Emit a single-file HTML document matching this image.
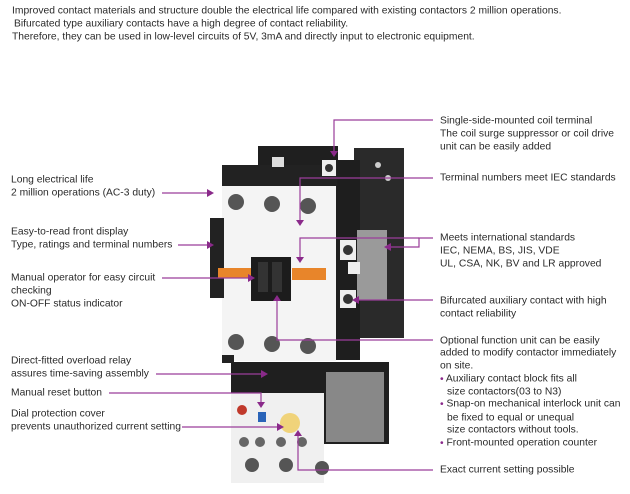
<!DOCTYPE html>
<html><head><meta charset="utf-8"><style>
html,body{margin:0;padding:0;background:#fff;}
svg{display:block;}
text{font-family:"Liberation Sans",sans-serif;font-size:10.3px;fill:#2a2a2a;dominant-baseline:central;}
.l{stroke:#9a3d9a;stroke-width:1.2;fill:none;}
.a{fill:#8a2a8a;}
</style></head><body>
<svg width="630" height="494" viewBox="0 0 630 494" xmlns="http://www.w3.org/2000/svg">
<!-- header -->
<text x="12" y="11">Improved contact materials and structure double the electrical life compared with existing contactors 2 million operations.</text>
<text x="14" y="24">Bifurcated type auxiliary contacts have a high degree of contact reliability.</text>
<text x="12" y="37">Therefore, they can be used in low-level circuits of 5V, 3mA and directly input to electronic equipment.</text>

<!-- product: mounting bracket -->
<rect x="354" y="148" width="50" height="190" fill="#2a2a2a"/>
<circle cx="378" cy="165" r="3" fill="#ccc"/><circle cx="388" cy="178" r="3" fill="#ccc"/>
<rect x="336" y="160" width="24" height="200" fill="#1e1e1e"/>
<rect x="357" y="230" width="30" height="70" fill="#9a9a9a"/>
<rect x="340" y="240" width="16" height="20" fill="#eee"/><circle cx="348" cy="250" r="5" fill="#333"/>
<rect x="340" y="290" width="16" height="18" fill="#eee"/><circle cx="348" cy="299" r="5" fill="#333"/>
<rect x="348" y="262" width="12" height="12" fill="#eee"/>
<!-- top black -->
<rect x="258" y="146" width="80" height="40" fill="#1f1f1f"/>
<rect x="222" y="165" width="115" height="25" fill="#222"/>
<rect x="322" y="160" width="14" height="16" fill="#eee"/><circle cx="329" cy="168" r="4" fill="#333"/>
<rect x="272" y="157" width="12" height="10" fill="#ddd"/>
<!-- white body -->
<rect x="222" y="186" width="114" height="175" fill="#f4f4f4"/>
<rect x="210" y="218" width="14" height="80" fill="#222"/>
<circle cx="236" cy="202" r="8" fill="#555"/><circle cx="272" cy="204" r="8" fill="#555"/><circle cx="308" cy="206" r="8" fill="#555"/>
<circle cx="236" cy="342" r="8" fill="#555"/><circle cx="272" cy="344" r="8" fill="#555"/><circle cx="308" cy="346" r="8" fill="#555"/>
<rect x="218" y="268" width="36" height="10" fill="#e8852a"/>
<rect x="292" y="268" width="34" height="12" fill="#e8852a"/>
<rect x="251" y="257" width="40" height="44" fill="#1c1c1c"/>
<rect x="258" y="262" width="10" height="30" fill="#333"/><rect x="272" y="262" width="10" height="30" fill="#333"/>
<rect x="222" y="355" width="12" height="8" fill="#222"/>
<!-- overload relay -->
<rect x="231" y="362" width="158" height="82" fill="#1f1f1f"/>
<rect x="326" y="372" width="58" height="70" fill="#888"/>
<rect x="231" y="393" width="93" height="90" fill="#f0f0f0"/>
<circle cx="242" cy="410" r="5" fill="#c0392b"/>
<rect x="258" y="412" width="8" height="10" fill="#2a64b8"/>
<circle cx="290" cy="423" r="10" fill="#f0d37a"/>
<circle cx="244" cy="442" r="5" fill="#666"/><circle cx="260" cy="442" r="5" fill="#666"/><circle cx="281" cy="442" r="5" fill="#666"/><circle cx="302" cy="442" r="5" fill="#666"/>
<circle cx="252" cy="465" r="7" fill="#555"/><circle cx="286" cy="465" r="7" fill="#555"/><circle cx="322" cy="468" r="7" fill="#555"/>

<!-- connectors -->
<polyline class="l" points="433,120 334,120 334,152"/><polygon class="a" points="330,151 338,151 334,157"/>
<polyline class="l" points="433,178 300,178 300,221"/><polygon class="a" points="296,220 304,220 300,226"/>
<polyline class="l" points="433,238 419,238 419,247 390,247"/><polygon class="a" points="391,243 391,251 384,247"/>
<polyline class="l" points="419,238 300,238 300,258"/><polygon class="a" points="296,257 304,257 300,263"/>
<polyline class="l" points="433,300 358,300"/><polygon class="a" points="359,296 359,304 352,300"/>
<polyline class="l" points="433,340 277,340 277,300"/><polygon class="a" points="273,301 281,301 277,295"/>
<polyline class="l" points="433,470 298,470 298,435"/><polygon class="a" points="294,436 302,436 298,430"/>
<line class="l" x1="162" y1="193" x2="208" y2="193"/><polygon class="a" points="207,189 207,197 214,193"/>
<line class="l" x1="178" y1="245" x2="208" y2="245"/><polygon class="a" points="207,241 207,249 214,245"/>
<line class="l" x1="162" y1="278" x2="249" y2="278"/><polygon class="a" points="248,274 248,282 255,278"/>
<line class="l" x1="156" y1="374" x2="262" y2="374"/><polygon class="a" points="261,370 261,378 268,374"/>
<polyline class="l" points="109,393 261,393 261,403"/><polygon class="a" points="257,402 265,402 261,408"/>
<line class="l" x1="182" y1="427" x2="278" y2="427"/><polygon class="a" points="277,423 277,431 284,427"/>

<!-- left labels -->
<text x="11" y="180">Long electrical life</text>
<text x="11" y="193">2 million operations (AC-3 duty)</text>
<text x="11" y="232">Easy-to-read front display</text>
<text x="11" y="245">Type, ratings and terminal numbers</text>
<text x="11" y="278">Manual operator for easy circuit</text>
<text x="11" y="291">checking</text>
<text x="11" y="304">ON-OFF status indicator</text>
<text x="11" y="361">Direct-fitted overload relay</text>
<text x="11" y="374">assures time-saving assembly</text>
<text x="11" y="393">Manual reset button</text>
<text x="11" y="414">Dial protection cover</text>
<text x="11" y="427">prevents unauthorized current setting</text>

<!-- right labels -->
<text x="440" y="121">Single-side-mounted coil terminal</text>
<text x="440" y="134">The coil surge suppressor or coil drive</text>
<text x="440" y="147">unit can be easily added</text>
<text x="440" y="178">Terminal numbers meet IEC standards</text>
<text x="440" y="238">Meets international standards</text>
<text x="440" y="251">IEC, NEMA, BS, JIS, VDE</text>
<text x="440" y="264">UL, CSA, NK, BV and LR approved</text>
<text x="440" y="301">Bifurcated auxiliary contact with high</text>
<text x="440" y="314">contact reliability</text>
<text x="440" y="341">Optional function unit can be easily</text>
<text x="440" y="353">added to modify contactor immediately</text>
<text x="440" y="366">on site.</text>
<text x="440" y="379"><tspan fill="#8a2a8a">•</tspan> Auxiliary contact block fits all</text>
<text x="447" y="392">size contactors(03 to N3)</text>
<text x="440" y="404"><tspan fill="#8a2a8a">•</tspan> Snap-on mechanical interlock unit can</text>
<text x="447" y="418">be fixed to equal or unequal</text>
<text x="447" y="430">size contactors without tools.</text>
<text x="440" y="443"><tspan fill="#8a2a8a">•</tspan> Front-mounted operation counter</text>
<text x="440" y="470">Exact current setting possible</text>
</svg>
</body></html>
